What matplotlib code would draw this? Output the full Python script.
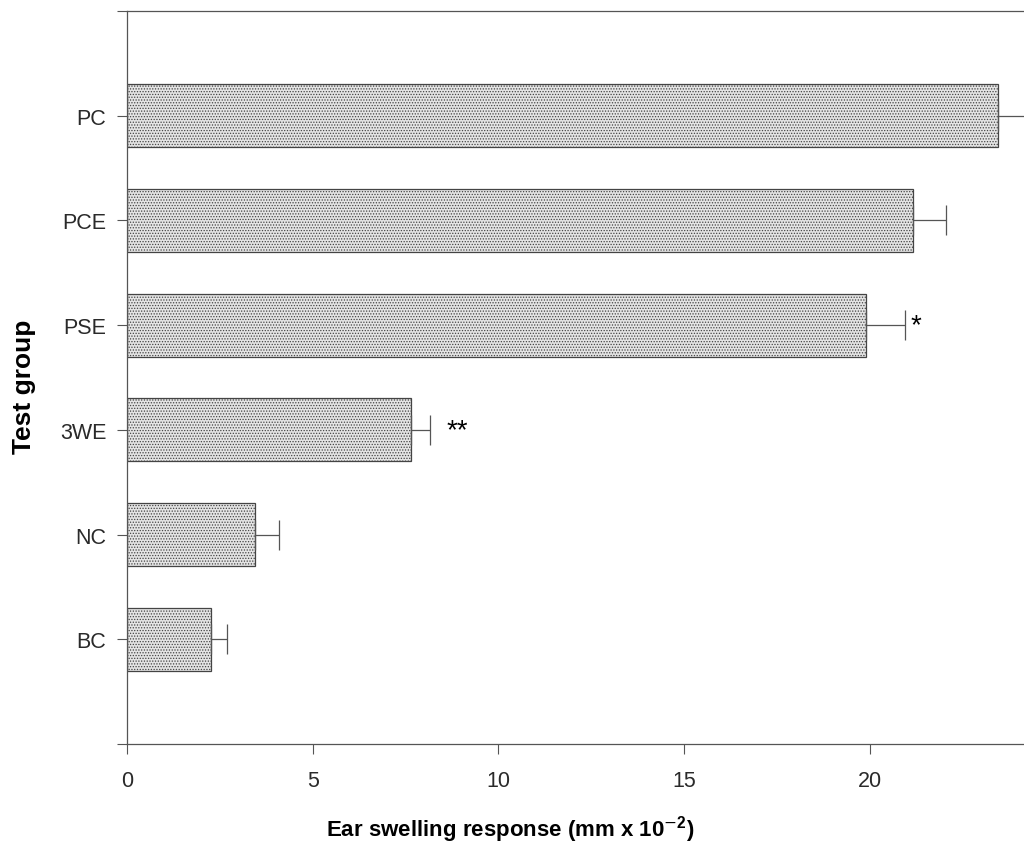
import matplotlib.pyplot as plt
import matplotlib as mpl

groups = ['PC', 'PCE', 'PSE', '3WE', 'NC', 'BC']
response = [23.45, 21.15, 19.9, 7.65, 3.45, 2.25]
err = [1.0, 0.9, 1.05, 0.5, 0.65, 0.45]
marks = ['', '', '*', '**', '', '']

plt.rcParams['font.family'] = ['Liberation Sans', 'DejaVu Sans']
plt.rcParams['mathtext.fontset'] = 'custom'
plt.rcParams['mathtext.rm'] = 'Liberation Sans:bold'
plt.rcParams['mathtext.default'] = 'rm'
mpl.rcParams['hatch.color'] = '#9a9a9a'
mpl.rcParams['hatch.linewidth'] = 0.6

fig = plt.figure(figsize=(10.24, 8.45), dpi=100)
ax = fig.add_axes([0.124, 0.1183, 0.876, 0.8675])

ypos = list(range(len(groups)))[::-1]
ax.barh(ypos, response, height=0.6, color='#e4e4e4', edgecolor='#444444',
        linewidth=0.9, hatch='......')
ax.errorbar(response, ypos, xerr=[[0] * len(err), err], fmt='none',
            ecolor='#555555', elinewidth=0.9, capsize=11, capthick=0.9)

for y, v, e, m in zip(ypos, response, err, marks):
    if m == '*':
        ax.text(v + e + 0.15, y, m, fontsize=20, va='center', ha='left')
    elif m == '**':
        ax.text(v + e + 0.45, y, m, fontsize=20, va='center', ha='left')

ax.set_xlim(0, 24.15)
ax.set_ylim(-1, 6)
ax.set_yticks(list(range(-1, 7)))
ax.set_yticklabels([''] + groups[::-1] + [''])
ax.set_xticks([0, 5, 10, 15, 20])

ax.spines['right'].set_visible(False)
for s in ['left', 'bottom', 'top']:
    ax.spines[s].set_color('#555555')
    ax.spines[s].set_linewidth(0.9)

ax.tick_params(axis='both', direction='out', length=7, width=0.8,
               color='#555555', labelsize=15.5, labelcolor='#2a2a2a')
ax.tick_params(axis='x', pad=12)
ax.tick_params(axis='y', pad=8)

ax.set_xlabel('Ear swelling response (mm x 10$^{\\mathsf{-}2}$)', fontsize=16,
              fontweight='bold', va='baseline')
ax.set_ylabel('Test group', fontsize=19, fontweight='bold')
ax.xaxis.set_label_coords((510 - 127) / 897, (745 - 836) / 733)
ax.yaxis.set_label_coords((36 - 127) / 897, (745 - 387) / 733)

fig.savefig('out.png', dpi=100)
